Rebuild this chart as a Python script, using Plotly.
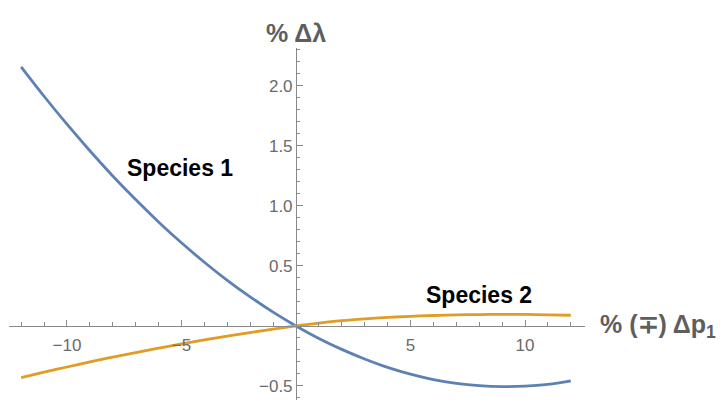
import plotly.graph_objects as go

# Data
x_vals = [-12, -11, -10, -9, -8, -7, -6, -5, -4, -3, -2, -1, 0,
          1, 2, 3, 4, 5, 6, 7, 8, 9, 10, 11, 12]
species1 = [2.159, 1.914, 1.681, 1.460, 1.250, 1.053, 0.867, 0.693, 0.531, 0.380, 0.242, 0.115, 0.0,
            -0.104, -0.195, -0.275, -0.345, -0.402, -0.447, -0.478, -0.497, -0.505, -0.502, -0.487, -0.458]
species2 = [-0.430, -0.385, -0.342, -0.300, -0.260, -0.222, -0.185, -0.150, -0.117, -0.085, -0.055, -0.027, 0.0,
            0.024, 0.044, 0.059, 0.071, 0.080, 0.087, 0.092, 0.095, 0.097, 0.096, 0.093, 0.089]

x_major = [-10, -5, 5, 10]
x_major_text = ["\u221210", "\u22125", "5", "10"]
x_minor = [-12, -11, -9, -8, -7, -6, -4, -3, -2, -1, 1, 2, 3, 4, 6, 7, 8, 9, 11, 12]
y_major = [-0.5, 0.5, 1.0, 1.5, 2.0]
y_major_text = ["\u22120.5", "0.5", "1.0", "1.5", "2.0"]
y_minor = [-0.6, -0.4, -0.3, -0.2, -0.1, 0.1, 0.2, 0.3, 0.4, 0.6, 0.7, 0.8, 0.9,
           1.1, 1.2, 1.3, 1.4, 1.6, 1.7, 1.8, 1.9, 2.1, 2.2, 2.3]

x_range = [-12.53, 12.62]
y_range = [-0.617, 2.316]

BLUE = "#5E81B5"
ORANGE = "#E19C24"
AXIS = "#8a8a8a"
TEXT = "#6a6a6a"
LABEL = "#5e5e5e"
FONT = "Liberation Sans, Arial, sans-serif"

fig = go.Figure()
fig.add_trace(go.Scatter(x=x_vals, y=species1, mode="lines",
                         line=dict(color=BLUE, width=2.8, shape="spline", smoothing=1.0),
                         showlegend=False, hoverinfo="skip"))
fig.add_trace(go.Scatter(x=x_vals, y=species2, mode="lines",
                         line=dict(color=ORANGE, width=2.8, shape="spline", smoothing=1.0),
                         showlegend=False, hoverinfo="skip"))

xpos = (0 - y_range[0]) / (y_range[1] - y_range[0])
ypos = (0 - x_range[0]) / (x_range[1] - x_range[0])

fig.update_layout(
    width=725, height=404,
    margin=dict(l=9, r=140, t=48, b=4),
    paper_bgcolor="white", plot_bgcolor="white",
    font=dict(family=FONT, color=TEXT),
    xaxis=dict(range=x_range, anchor="free", position=xpos, side="bottom",
               showgrid=False, zeroline=False, showline=True, linecolor=AXIS, linewidth=1,
               tickmode="array", tickvals=x_major, ticktext=x_major_text,
               ticks="inside", ticklen=6, tickcolor=AXIS, tickwidth=1,
               ticklabelstandoff=4,
               tickfont=dict(size=17, color=TEXT, family=FONT),
               minor=dict(tickmode="array", tickvals=x_minor, ticks="inside", ticklen=3.5,
                          tickcolor=AXIS, tickwidth=1, showgrid=False)),
    yaxis=dict(range=y_range, anchor="free", position=ypos, side="left",
               showgrid=False, zeroline=False, showline=True, linecolor=AXIS, linewidth=1,
               tickmode="array", tickvals=y_major, ticktext=y_major_text,
               ticks="inside", ticklen=6, tickcolor=AXIS, tickwidth=1,
               tickfont=dict(size=17, color=TEXT, family=FONT),
               minor=dict(tickmode="array", tickvals=y_minor, ticks="inside", ticklen=3.5,
                          tickcolor=AXIS, tickwidth=1, showgrid=False)),
)

fig.add_annotation(x=-5.07, y=1.317, xref="x", yref="y", text="<b>Species 1</b>",
                   showarrow=False, font=dict(size=23, color="black", family=FONT))
fig.add_annotation(x=7.99, y=0.258, xref="x", yref="y", text="<b>Species 2</b>",
                   showarrow=False, font=dict(size=23, color="black", family=FONT))
fig.add_annotation(x=0.0, y=1.0, xref="x", yref="paper", yshift=31, text="<b>% \u0394\u03bb</b>",
                   showarrow=False, font=dict(size=25, color=LABEL, family=FONT))
fig.add_annotation(x=1.0, y=0, xref="paper", yref="y", xanchor="left", xshift=13,
                   text="<b>% (\u2213) \u0394p<sub>1</sub></b>",
                   showarrow=False, font=dict(size=25, color=LABEL, family=FONT))

fig.write_html("out.html")
